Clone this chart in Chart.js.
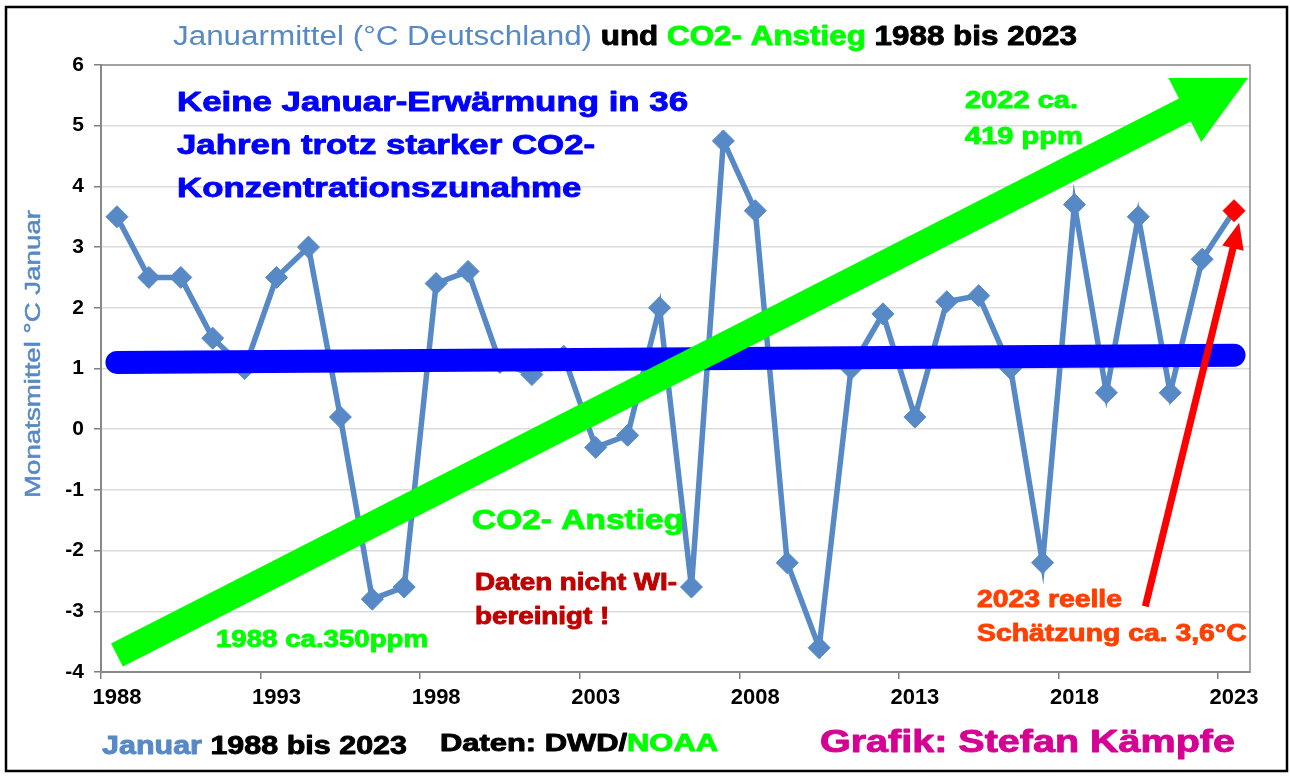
<!DOCTYPE html>
<html lang="de">
<head>
<meta charset="utf-8">
<title>Januarmittel Deutschland und CO2-Anstieg 1988 bis 2023</title>
<script src="https://cdn.jsdelivr.net/npm/chart.js@4.4.1/dist/chart.umd.min.js"></script>
<style>
  html, body { margin: 0; padding: 0; background: #fff; }
  canvas { display: block; }
</style>
</head>
<body>
<canvas id="chart" width="1290" height="776"></canvas>
<script>
// Jahre (Kategorien der x-Achse)
const years = ['1988', '1989', '1990', '1991', '1992', '1993', '1994', '1995', '1996', '1997',
  '1998', '1999', '2000', '2001', '2002', '2003', '2004', '2005', '2006', '2007',
  '2008', '2009', '2010', '2011', '2012', '2013', '2014', '2015', '2016', '2017',
  '2018', '2019', '2020', '2021', '2022', '2023'];

// Januarmittel Deutschland in °C (2023 = Schätzung)
const januarMittel = [3.5, 2.5, 2.5, 1.5, 1.0, 2.5, 3.0, 0.2, -2.8, -2.6,
  2.4, 2.6, 1.1, 0.9, 1.2, -0.3, -0.1, 2.0, -2.6, 4.75,
  3.6, -2.2, -3.6, 1.0, 1.9, 0.2, 2.1, 2.2, 1.0, -2.2,
  3.7, 0.6, 3.5, 0.6, 2.8, 3.6];

// linearer Trend (Anfang und Ende)
const trendYears = ['1988', '2023'];
const trendValues = [1.1, 1.22];

// y-Achse
const yMin = -4;
const yMax = 6;
const yStep = 1;

// Pfeile: [Kategorie-Index, Wert]
const co2ArrowFrom = [0, -3.72];
const co2ArrowTo = [35.44, 5.79];
const redArrowFrom = [32.22, -2.92];
const redArrowTo = [35.16, 3.40];

const steelBlue = '#5689c5';
const green = '#00ff00';
const fontFamily = '"Liberation Sans", Arial, sans-serif';

// Texte (Position in Pixeln, Breite der ersten Zeile)
const notes = [
  { x: 173, y: 38, size: 27, width: 904, lines: [[
    ['Januarmittel (°C Deutschland)', steelBlue, 'normal'],
    [' und ', '#000'], ['CO2- Anstieg', green], [' 1988 bis 2023', '#000']]] },
  { x: 177, y: 103, size: 28, width: 511, lh: 43, lines: [
    [['Keine Januar-Erwärmung in 36', '#0000ff']],
    [['Jahren trotz starker CO2-', '#0000ff']],
    [['Konzentrationszunahme', '#0000ff']]] },
  { x: 965, y: 101, size: 24, width: 113, lh: 36, lines: [
    [['2022 ca.', green]], [['419 ppm', green]]] },
  { x: 472, y: 521, size: 28, width: 212, lines: [[['CO2- Anstieg', green]]] },
  { x: 475, y: 584, size: 23, width: 202, lh: 34, lines: [
    [['Daten nicht WI-', '#c00000']], [['bereinigt !', '#c00000']]] },
  { x: 216, y: 640, size: 24, width: 212, lines: [[['1988 ca.350ppm', green]]] },
  { x: 977, y: 600, size: 24, width: 145, lh: 34, lines: [
    [['2023 reelle', '#ff4000']], [['Schätzung ca. 3,6°C', '#ff4000']]] },
  { x: 102, y: 747, size: 25, width: 305, lines: [[['Januar', steelBlue], [' 1988 bis 2023', '#000']]] },
  { x: 440, y: 745, size: 23, width: 278, lines: [[['Daten: DWD/', '#000'], ['NOAA', green]]] },
  { x: 820, y: 743, size: 31, width: 415, lines: [[['Grafik: Stefan Kämpfe', '#d60093']]] }
];

function partFont(size, weight) {
  return (weight || 'bold') + ' ' + size + 'px ' + fontFamily;
}

function lineWidth(ctx, parts, size) {
  let w = 0;
  parts.forEach(p => { ctx.font = partFont(size, p[2]); w += ctx.measureText(p[0]).width; });
  return w;
}

function drawNote(ctx, note) {
  const sx = note.width / lineWidth(ctx, note.lines[0], note.size);
  note.lines.forEach((parts, li) => {
    ctx.save();
    ctx.translate(note.x, note.y + li * (note.lh || 0));
    ctx.scale(sx, 1);
    ctx.textAlign = 'left';
    ctx.textBaseline = 'middle';
    ctx.lineJoin = 'round';
    let cx = 0;
    parts.forEach(p => {
      ctx.font = partFont(note.size, p[2]);
      ctx.fillStyle = p[1];
      ctx.fillText(p[0], cx, 0);
      if (!p[2]) {
        // etwas kräftiger, wie im Original
        ctx.strokeStyle = p[1];
        ctx.lineWidth = 0.9;
        ctx.strokeText(p[0], cx, 0);
      }
      cx += ctx.measureText(p[0]).width;
    });
    ctx.restore();
  });
}

function drawArrow(ctx, xs, ys, from, to, shaft, headLen, headHalf, color) {
  const sx = xs.getPixelForValue(from[0]), sy = ys.getPixelForValue(from[1]);
  const tx = xs.getPixelForValue(to[0]), ty = ys.getPixelForValue(to[1]);
  const len = Math.hypot(tx - sx, ty - sy);
  const ux = (tx - sx) / len, uy = (ty - sy) / len;
  const nx = -uy, ny = ux;
  const bx = tx - ux * headLen, by = ty - uy * headLen;
  const w = shaft / 2;
  ctx.save();
  ctx.fillStyle = color;
  ctx.beginPath();
  ctx.moveTo(sx + nx * w, sy + ny * w);
  ctx.lineTo(bx + nx * w, by + ny * w);
  ctx.lineTo(bx + nx * headHalf, by + ny * headHalf);
  ctx.lineTo(tx, ty);
  ctx.lineTo(bx - nx * headHalf, by - ny * headHalf);
  ctx.lineTo(bx - nx * w, by - ny * w);
  ctx.lineTo(sx - nx * w, sy - ny * w);
  ctx.closePath();
  ctx.fill();
  ctx.restore();
}

const decor = {
  id: 'decor',
  beforeDatasetsDraw(chart) {
    const { ctx, chartArea: a } = chart;
    ctx.save();
    ctx.strokeStyle = '#8c8c8c';
    ctx.lineWidth = 1.5;
    ctx.strokeRect(a.left, a.top, a.right - a.left, a.bottom - a.top);
    ctx.restore();
  },
  afterDatasetsDraw(chart) {
    const { ctx, scales } = chart;
    drawArrow(ctx, scales.x, scales.y, co2ArrowFrom, co2ArrowTo, 26, 71, 36, green);
    drawArrow(ctx, scales.x, scales.y, redArrowFrom, redArrowTo, 7, 26, 11, '#ff0000');
  },
  afterDraw(chart) {
    const ctx = chart.ctx;
    notes.forEach(n => drawNote(ctx, n));

    // y-Achsentitel
    ctx.save();
    ctx.translate(34, 354);
    ctx.rotate(-Math.PI / 2);
    ctx.font = partFont(22, 'normal');
    const t = 'Monatsmittel °C Januar';
    ctx.scale(288 / ctx.measureText(t).width, 1);
    ctx.fillStyle = steelBlue;
    ctx.strokeStyle = steelBlue;
    ctx.lineWidth = 0.5;
    ctx.textAlign = 'center';
    ctx.textBaseline = 'middle';
    ctx.fillText(t, 0, 0);
    ctx.strokeText(t, 0, 0);
    ctx.restore();

    // Rahmen
    ctx.save();
    ctx.strokeStyle = '#000';
    ctx.lineWidth = 2.5;
    ctx.strokeRect(6, 7, 1281, 764);
    ctx.restore();
  }
};

new Chart(document.getElementById('chart'), {
  type: 'line',
  data: {
    labels: years,
    datasets: [{
      label: 'Trend',
      data: trendYears.map((yr, i) => ({ x: yr, y: trendValues[i] })),
      borderColor: '#0000ff',
      borderWidth: 23,
      borderCapStyle: 'round',
      pointRadius: 0,
      order: 1
    }, {
      label: 'Januarmittel',
      data: januarMittel,
      borderColor: steelBlue,
      borderWidth: 5.5,
      tension: 0,
      pointStyle: 'rectRot',
      pointRadius: 11,
      pointBorderWidth: 1,
      pointBackgroundColor: c => c.dataIndex === years.length - 1 ? '#ff0000' : steelBlue,
      pointBorderColor: c => c.dataIndex === years.length - 1 ? '#ff0000' : steelBlue,
      order: 2
    }]
  },
  options: {
    responsive: false,
    animation: false,
    devicePixelRatio: 1,
    layout: { padding: { left: 0, top: 65, right: 40, bottom: 0 } },
    plugins: {
      legend: { display: false },
      tooltip: { enabled: false }
    },
    scales: {
      x: {
        offset: true,
        ticks: {
          autoSkip: false,
          maxRotation: 0,
          callback: (v, i) => (i % 5 === 0 ? years[i] : ''),
          color: '#000',
          font: { family: fontFamily, size: 22, weight: 'bold' },
          padding: 6
        },
        grid: {
          offset: true,
          drawOnChartArea: false,
          tickLength: 7,
          lineWidth: 1.5,
          tickColor: c => (c.index % 5 === 0 ? '#7f7f7f' : 'rgba(0,0,0,0)')
        },
        border: { color: '#7f7f7f', width: 2 },
        afterFit: s => { s.height = 104; }
      },
      y: {
        min: yMin,
        max: yMax,
        ticks: {
          stepSize: yStep,
          color: '#000',
          font: { family: fontFamily, size: 21, weight: 'bold' },
          padding: 10
        },
        grid: { color: '#dcdcdc', lineWidth: 1.5, tickColor: '#7f7f7f', tickLength: 7 },
        border: { color: '#7f7f7f', width: 2 },
        afterFit: s => { s.width = 101; }
      }
    }
  },
  plugins: [decor]
});
</script>
</body>
</html>
